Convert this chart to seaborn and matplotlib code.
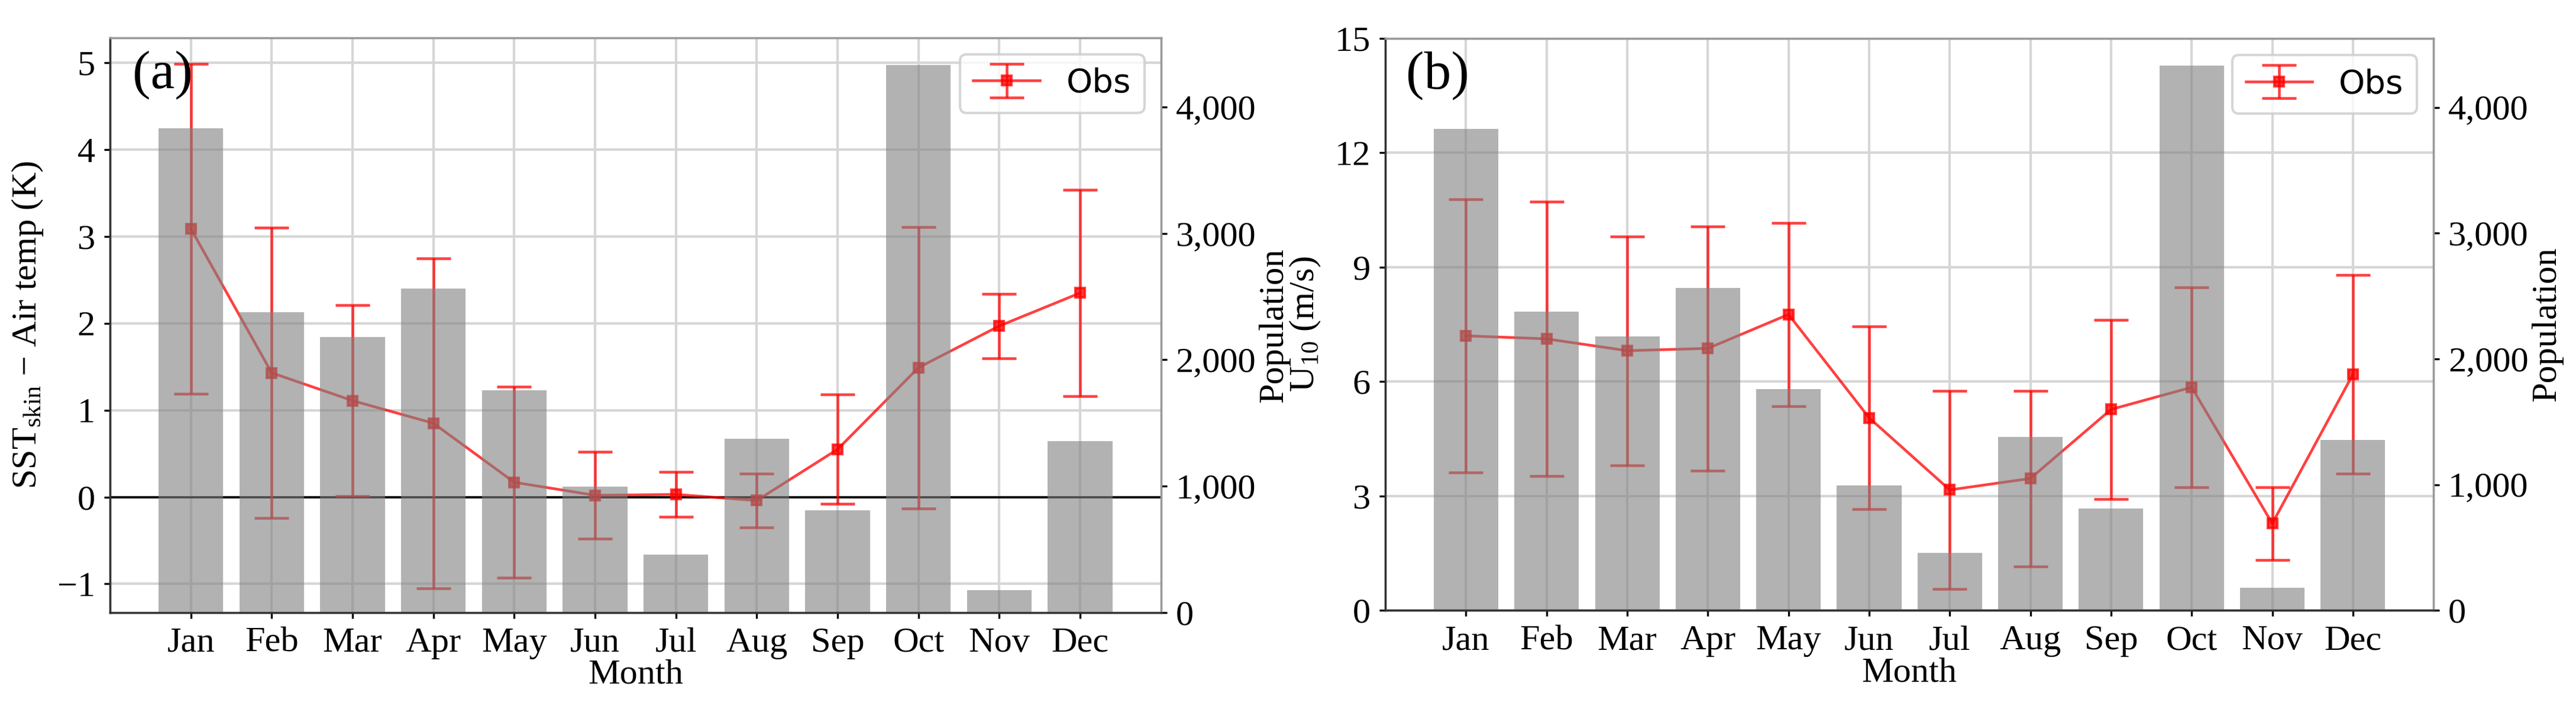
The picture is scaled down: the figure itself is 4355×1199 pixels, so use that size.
"""Monthly SST-air temperature difference and 10 m wind speed with sample population."""

import matplotlib

matplotlib.use("Agg")
import matplotlib.pyplot as plt
import numpy as np
import seaborn as sns
from matplotlib.ticker import FuncFormatter

MONTHS = ["Jan", "Feb", "Mar", "Apr", "May", "Jun", "Jul", "Aug", "Sep", "Oct", "Nov", "Dec"]

# number of observations per month (same for both panels)
POPULATION = [3830, 2375, 2178, 2562, 1758, 995, 457, 1377, 810, 4333, 178, 1358]

# panel (a): SST_skin - air temperature (K)
DT_MEAN = [3.09, 1.43, 1.11, 0.85, 0.17, 0.02, 0.03, -0.04, 0.55, 1.49, 1.97, 2.35]
DT_STD = [1.90, 1.67, 1.10, 1.90, 1.10, 0.50, 0.26, 0.31, 0.63, 1.62, 0.37, 1.19]

# panel (b): U10 (m/s)
U10_MEAN = [7.20, 7.12, 6.81, 6.87, 7.76, 5.05, 3.16, 3.46, 5.27, 5.85, 2.28, 6.19]
U10_STD = [3.58, 3.60, 3.00, 3.20, 2.40, 2.40, 2.60, 2.30, 2.35, 2.62, 0.95, 2.60]

plt.rcParams.update({
    "font.family": ["Liberation Serif", "DejaVu Serif"],
    "font.size": 14.5,
    "mathtext.fontset": "custom",
    "mathtext.rm": "Liberation Serif",
    "mathtext.it": "Liberation Serif:italic",
    "mathtext.bf": "Liberation Serif:bold",
    "xtick.major.size": 2.5,
    "ytick.major.size": 2.5,
})


def draw_panel(ax, mean, std, ylabel, ylim, yticks, tag, zero_line):
    ax2 = ax.twinx()

    # error bars on the left axis, bars on the twin so they sit on top with alpha
    x = np.arange(len(MONTHS))
    ax.errorbar(
        x, mean, yerr=std, color="red", marker="s", markersize=4,
        lw=1.1, elinewidth=1.1, capsize=7, capthick=1.1, alpha=0.75,
        label="Obs", zorder=3,
    )
    if zero_line:
        ax.axhline(0, color="black", lw=0.9, zorder=2)

    sns.barplot(
        x=MONTHS, y=POPULATION, ax=ax2, color="grey", alpha=0.6,
        saturation=1, width=0.8, errorbar=None, order=MONTHS,
    )

    ax.set_xlim(-1, 12)
    ax.set_xticks(x)
    ax.set_xticklabels(MONTHS)
    ax.set_ylim(*ylim)
    ax.set_yticks(yticks)
    ax.grid(True, color="#d6d6d6", lw=1.0)
    ax.set_axisbelow(True)
    ax.set_xlabel("Month", labelpad=0)
    ax.set_ylabel(ylabel, labelpad=5)

    ax2.set_ylim(0, max(POPULATION) * 1.05)
    ax2.set_yticks([0, 1000, 2000, 3000, 4000])
    ax2.yaxis.set_major_formatter(FuncFormatter(lambda v, p: f"{int(v):,}"))
    ax2.set_ylabel("Population", labelpad=1)
    ax2.set_xlabel("")

    for spine in ["top", "right"]:
        ax.spines[spine].set_color("#999999")
        ax2.spines[spine].set_color("#999999")
    for spine in ["left", "bottom"]:
        ax.spines[spine].set_color("#333333")
        ax2.spines[spine].set_color("#333333")

    ax.text(0.05, 0.935, tag, transform=ax.transAxes, ha="center", va="center", fontsize=22)

    handles, labels = ax.get_legend_handles_labels()
    ax2.legend(handles, labels, loc="upper right", prop={"family": "DejaVu Sans", "size": 13.5})
    return ax2


def main():
    fig, (ax_a, ax_b) = plt.subplots(1, 2, figsize=(4355 / 300, 1199 / 300), dpi=300)

    twin_a = draw_panel(
        ax_a, DT_MEAN, DT_STD, r"SST$_{\rm skin}$ $-$ Air temp (K)",
        (-1.33, 5.29), [-1, 0, 1, 2, 3, 4, 5], "(a)", True,
    )
    twin_b = draw_panel(
        ax_b, U10_MEAN, U10_STD, r"U$_{10}$ (m/s)",
        (0, 15), [0, 3, 6, 9, 12, 15], "(b)", False,
    )

    pos_a = [0.0427, 0.136, 0.4080, 0.811]
    pos_b = [0.5378, 0.139, 0.4069, 0.807]
    for axis in (ax_a, twin_a):
        axis.set_position(pos_a)
    for axis in (ax_b, twin_b):
        axis.set_position(pos_b)

    fig.savefig("out.png", dpi=300)
    plt.close(fig)


if __name__ == "__main__":
    main()
